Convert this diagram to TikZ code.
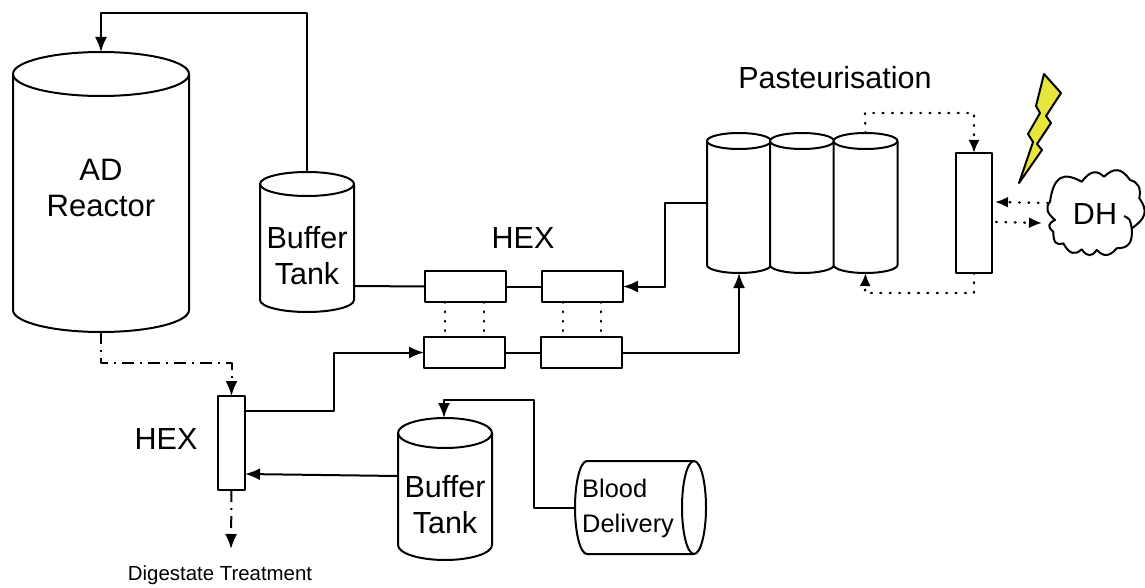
\documentclass[tikz,border=0pt]{standalone}
\usepackage{fontspec}
\setmainfont{Liberation Sans}
\usetikzlibrary{arrows.meta,calc}
\definecolor{boltyellow}{HTML}{E6E63C}
\tikzset{
  x=1pt,y=-1pt,
  ln/.style={line width=2pt,line join=round},
  flow/.style={ln,-{Latex[length=15pt,width=12pt]}},
  dotflow/.style={flow,line width=2.4pt,-{Latex[length=13pt,width=11pt]},line cap=round,dash pattern=on 0.8pt off 8.6pt},
  dotlink/.style={ln,line width=2.4pt,line cap=round,dash pattern=on 0.8pt off 8.6pt},
  dashdot/.style={flow,dash pattern=on 12pt off 6pt on 2pt off 6pt},
  box/.style={draw,ln,fill=white,inner sep=0pt,outer sep=0pt},
  hexh/.style={box,minimum width=81pt,minimum height=31pt},
  lab/.style={inner sep=0pt,align=center},
  big/.style={lab,font=\fontsize{30.5}{36}\selectfont},
  mid/.style={lab,font=\fontsize{30.5}{36}\selectfont},
  lobe/.style={to path={.. controls ($(\tikztostart)!0.72!#1$) and ($(\tikztotarget)!0.72!#1$) .. (\tikztotarget)}},
}
% name, centre x, top y, bottom y, x radius, y radius
\newcommand\drum[6]{%
  \draw[ln,fill=white] ({#2-#5},{#3+#6}) arc[start angle=180,end angle=0,x radius=#5pt,y radius=#6pt]
    -- ({#2+#5},{#4-#6}) arc[start angle=0,end angle=-180,x radius=#5pt,y radius=#6pt] -- cycle;
  \draw[ln] ({#2-#5},{#3+#6}) arc[start angle=180,end angle=360,x radius=#5pt,y radius=#6pt];
  \node[inner sep=0pt,outer sep=0pt,minimum width={2*#5*1pt},minimum height={(#4-#3)*1pt}] (#1) at (#2,{(#3+#4)/2}) {};
}
\begin{document}
\begin{tikzpicture}
\useasboundingbox (0,0) rectangle (1145,588);
\fill[white] (0,0) rectangle (1145,588);

% vessels
\drum{ad}{101}{52}{332}{88}{22}
\drum{tankA}{307}{172}{312}{47}{12}
\drum{tankB}{445}{418}{560}{47}{15}
\drum{pasA}{739}{133}{273}{32}{8}
\drum{pasB}{802}{133}{273}{32}{8}
\drum{pasC}{865.5}{133}{273}{32}{8}

% blood delivery drum (horizontal)
\draw[ln,fill=white] (694,461) -- (587,461) arc[start angle=90,end angle=270,x radius=12pt,y radius=46.5pt] -- (694,554)
  arc[start angle=-90,end angle=90,x radius=12pt,y radius=46.5pt] -- cycle;
\draw[ln] (694,461) arc[start angle=90,end angle=270,x radius=12pt,y radius=46.5pt];
\node[inner sep=0pt,outer sep=0pt,minimum width=131pt,minimum height=93pt] (blood) at (640.5,507.5) {};

% heat exchangers
\node[hexh] (h1) at (465.5,286.5) {};
\node[hexh] (h2) at (582.5,286.5) {};
\node[hexh] (h3) at (464.5,352.5) {};
\node[hexh] (h4) at (581.5,352.5) {};
\node[box,minimum width=27pt,minimum height=94pt] (hexL) at (231.5,443) {};
\node[box,minimum width=36pt,minimum height=120pt] (hexR) at (974,213) {};

% district heating cloud
\draw[ln,fill=white] (1050,201.7)
  to[lobe={(1055,167)}] (1081.7,181.7)
  to[lobe={(1093.3,166.7)}] (1104,176.7)
  to[lobe={(1118.3,163.3)}] (1130,180)
  to[lobe={(1141.7,183.3)}] (1139.3,198.3)
  to[lobe={(1151.7,215)}] (1131.7,228.3)
  to[lobe={(1133.3,248.3)}] (1116.7,248.3)
  to[lobe={(1106.7,260)}] (1096.7,250)
  to[lobe={(1089.3,260)}] (1081.7,249.3)
  to[lobe={(1071.7,258.3)}] (1063.3,243.3)
  to[lobe={(1053.3,246.7)}] (1053.3,231.7)
  to[lobe={(1045,225)}] (1055,220)
  to[lobe={(1043.3,210)}] (1050,201.7) -- cycle;
\draw[ln] (1124,216) .. controls (1130,219) .. (1131.7,228.3);
\node[inner sep=0pt,outer sep=0pt,minimum width=94pt,minimum height=84pt,font=\fontsize{30.5}{36}\selectfont] (dh) at (1095,214) {DH};

% lightning
\draw[ln,fill=boltyellow] (1044,74) -- (1061,93) -- (1046,116) -- (1051,123) -- (1037,144) -- (1042,150) -- (1019,183)
  -- (1033,142) -- (1028,134) -- (1040,113) -- (1036,106) -- cycle;

% text
\node[big,font=\fontsize{31}{36}\selectfont] (adT) at (101,188) {AD\\Reactor};
\node[big] (tankAT) at (307,256) {Buffer\\Tank};
\node[big] (tankBT) at (445,505) {Buffer\\Tank};
\node[lab,align=left,font=\fontsize{25.4}{35}\selectfont,anchor=west] (bloodT) at (582,508) {Blood\\Delivery};
\node[mid] (hexTopT) at (523,238) {HEX};
\node[mid] (hexLT) at (166,439) {HEX};
\node[mid] (pasT) at (835,78) {Pasteurisation};
\node[lab,font=\fontsize{20.4}{24}\selectfont] (digT) at (220,575) {Digestate Treatment};

% solid connectors
\coordinate (topA) at (101,13);
\draw[flow] (tankA.north) |- (topA) -- (ad.north);
\draw[ln] ([yshift=-44pt]tankA.east) -- (h1.west);
\draw[ln] (h1.east) -- (h2.west);
\draw[ln] (h3.east) -- (h4.west);
\coordinate (jA) at (665,245);
\draw[flow] (pasA.west) -| (jA) |- (h2.east);
\draw[flow] (h4.east) -| (pasA.south);
\coordinate (jB) at (334,380);
\draw[flow] ([yshift=32pt]hexL.east) -| (jB) |- (h3.west);
\draw[flow] ([yshift=13pt]tankB.west) -- ([yshift=-31pt]hexL.east);
\coordinate (jC) at (534,450);
\coordinate (jD) at (444,400);
\draw[flow] (blood.west) -| (jC) |- (jD) -- (tankB.north -| jD);

% dotted connectors
\foreach \xa in {445,484} \draw[dotlink] (\xa,302) -- (\xa,337);
\foreach \xa in {563,601} \draw[dotlink] (\xa,302) -- (\xa,337);
\coordinate (dotTop) at (865,113);
\coordinate (dotBot) at (865,293);
\draw[dotflow] (pasC.north) -- (dotTop) -| (hexR.north);
\draw[dotflow] (hexR.south) |- (dotBot) -- (pasC.south);
\draw[dotflow] ([yshift=11pt]dh.west) -- ([xshift=3pt,yshift=11pt]hexR.east);
\draw[dotflow] ([xshift=4pt,yshift=-9pt]hexR.east) -- ([xshift=-6pt,yshift=-9pt]dh.west);

% dash-dot connectors
\coordinate (ddA) at (101,363);
\draw[dashdot] (ad.south) -- (ddA) -| (hexL.north);
\coordinate (digEnd) at (231,549);
\draw[dashdot] (hexL.south) -- (digEnd);
\end{tikzpicture}
\end{document}
